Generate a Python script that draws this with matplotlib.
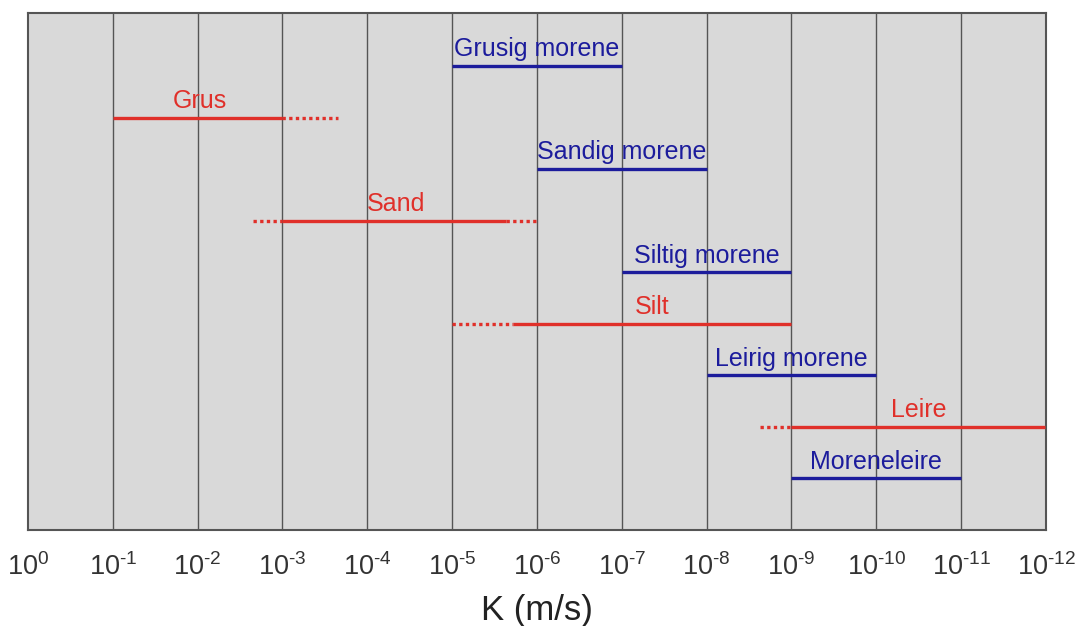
import matplotlib.pyplot as plt
import numpy as np

plt.rcParams['font.family'] = ['Liberation Sans', 'DejaVu Sans']
plt.rcParams['mathtext.fontset'] = 'custom'
plt.rcParams['mathtext.rm'] = 'Liberation Sans'
plt.rcParams['mathtext.it'] = 'Liberation Sans'
plt.rcParams['mathtext.default'] = 'regular'

# Hydraulic conductivity ranges (m/s), top row first
names = ['Grusig morene', 'Grus', 'Sandig morene', 'Sand', 'Siltig morene',
         'Silt', 'Leirig morene', 'Leire', 'Moreneleire']
kind = ['morene', 'soil', 'morene', 'soil', 'morene', 'soil', 'morene', 'soil', 'morene']
solid_hi = [1e-5, 1e-1, 1e-6, 1e-3, 1e-7, 10**-5.72, 1e-8, 1e-9, 1e-9]
solid_lo = [1e-7, 1e-3, 1e-8, 10**-5.64, 1e-9, 1e-9, 1e-10, 10**-11.99, 1e-11]
# dotted extensions (None = no extension)
dot_hi = [None, None, None, 10**-2.65, None, 1e-5, None, 10**-8.63, None]
dot_lo = [None, 10**-3.66, None, 1e-6, None, None, None, None, None]
label_k = [10**-6, 10**-2.03, 10**-7, 10**-4.34, 10**-8, 10**-7.36, 10**-9, 10**-10.5, 10**-10]

colors = {'soil': '#e0302a', 'morene': '#1c1c9c'}
exps = list(range(13))
ticks = [10.0**-i for i in exps]

fig = plt.figure(figsize=(10.81, 6.26), dpi=100)
ax = fig.add_axes([0.0259, 0.1534, 0.9417, 0.8258])
ax.set_facecolor('#d9d9d9')
ax.set_xscale('log')
ax.set_xlim(1, 1e-12)
ax.set_ylim(9.0, -1.03)

for t in ticks[1:-1]:
    ax.axvline(t, color='#555555', lw=1.0, zorder=1)

for i, name in enumerate(names):
    c = colors[kind[i]]
    ax.plot([solid_hi[i], solid_lo[i]], [i, i], color=c, lw=2.4,
            solid_capstyle='butt', zorder=3)
    if dot_hi[i] is not None:
        ax.plot([dot_hi[i], solid_hi[i]], [i, i], color=c, lw=2.4,
                linestyle=(0, (1, 1)), dash_capstyle='butt', zorder=3)
    if dot_lo[i] is not None:
        ax.plot([solid_lo[i], dot_lo[i]], [i, i], color=c, lw=2.4,
                linestyle=(0, (1, 1)), dash_capstyle='butt', zorder=3)
    ax.annotate(name, (label_k[i], i), xytext=(0, 7), textcoords='offset points',
                ha='center', va='baseline', fontsize=18, color=c, zorder=4)

ax.set_xticks(ticks)
ax.set_xticklabels([r'$10^{\text{-}%d}$' % e if e else '$10^{0}$' for e in exps])
ax.xaxis.set_minor_locator(plt.NullLocator())
ax.tick_params(axis='x', length=0, pad=17, labelsize=19.5, colors='#333333')
ax.set_yticks([])
for s in ax.spines.values():
    s.set_color('#555555')
    s.set_linewidth(1.5)

ax.set_xlabel('K (m/s)', fontsize=25, color='#222222', labelpad=9)

plt.savefig('out.png', dpi=100)
